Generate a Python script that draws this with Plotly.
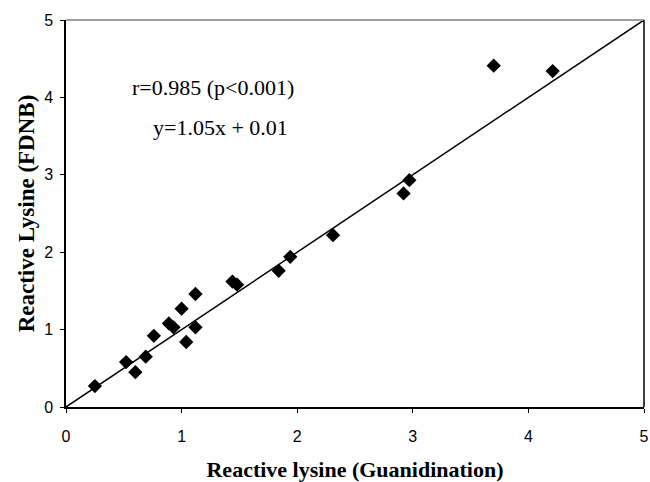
import plotly.graph_objects as go

guan = [0.25, 0.52, 0.60, 0.69, 0.76, 0.89, 0.93, 1.00, 1.04, 1.12, 1.12, 1.44, 1.48, 1.84, 1.94, 2.31, 2.92, 2.97, 3.70, 4.21]
fdnb = [0.27, 0.58, 0.45, 0.65, 0.92, 1.08, 1.03, 1.27, 0.84, 1.46, 1.03, 1.62, 1.58, 1.76, 1.94, 2.22, 2.76, 2.93, 4.41, 4.34]
line_x = [0, 5]
line_y = [0, 5]
ticks = [0, 1, 2, 3, 4, 5]

serif = "Liberation Serif, Times New Roman, serif"
sans = "Liberation Sans, Arial, sans-serif"

fig = go.Figure()
fig.add_trace(go.Scatter(x=line_x, y=line_y, mode="lines",
                         line=dict(color="black", width=1.5), showlegend=False, hoverinfo="skip"))
fig.add_trace(go.Scatter(x=guan, y=fdnb, mode="markers",
                         marker=dict(symbol="diamond", size=11, color="black"), showlegend=False))

fig.add_annotation(x=0.555, y=4.13, xref="x", yref="y", text="r=0.985 (p<0.001)",
                   showarrow=False, xanchor="left", yanchor="middle",
                   font=dict(family=serif, size=22, color="black"))
fig.add_annotation(x=0.735, y=3.61, xref="x", yref="y", text="y=1.05x + 0.01",
                   showarrow=False, xanchor="left", yanchor="middle",
                   font=dict(family=serif, size=22, color="black"))

# top (gray) and right (black) frame lines
fig.add_shape(type="line", xref="paper", yref="paper", x0=0, x1=1, y0=1, y1=1,
              line=dict(color="#a0a0a0", width=2))
fig.add_shape(type="line", xref="paper", yref="paper", x0=1, x1=1, y0=0, y1=1,
              line=dict(color="black", width=1.5))

axis_common = dict(range=[0, 5], tickvals=ticks, showgrid=False, zeroline=False,
                   showline=True, linecolor="black", linewidth=1.5,
                   ticks="outside", ticklen=4, tickcolor="black", automargin=False,
                   tickfont=dict(family=sans, size=16, color="black"))

fig.update_xaxes(**axis_common, ticklabelstandoff=10,
                 title=dict(text="<b>Reactive lysine (Guanidination)</b>", standoff=18,
                            font=dict(family=serif, size=22, color="black")))
fig.update_yaxes(**axis_common, ticklabelstandoff=4,
                 title=dict(text="<b>Reactive Lysine (FDNB)</b>", standoff=3,
                            font=dict(family=serif, size=23, color="black")))

fig.update_layout(width=650, height=482, margin=dict(l=66, r=6, t=20, b=75),
                  plot_bgcolor="white", paper_bgcolor="white")

fig.write_html("out.html", config={"displayModeBar": False},
               post_script="document.body.style.margin='0';document.body.style.overflow='hidden';")
